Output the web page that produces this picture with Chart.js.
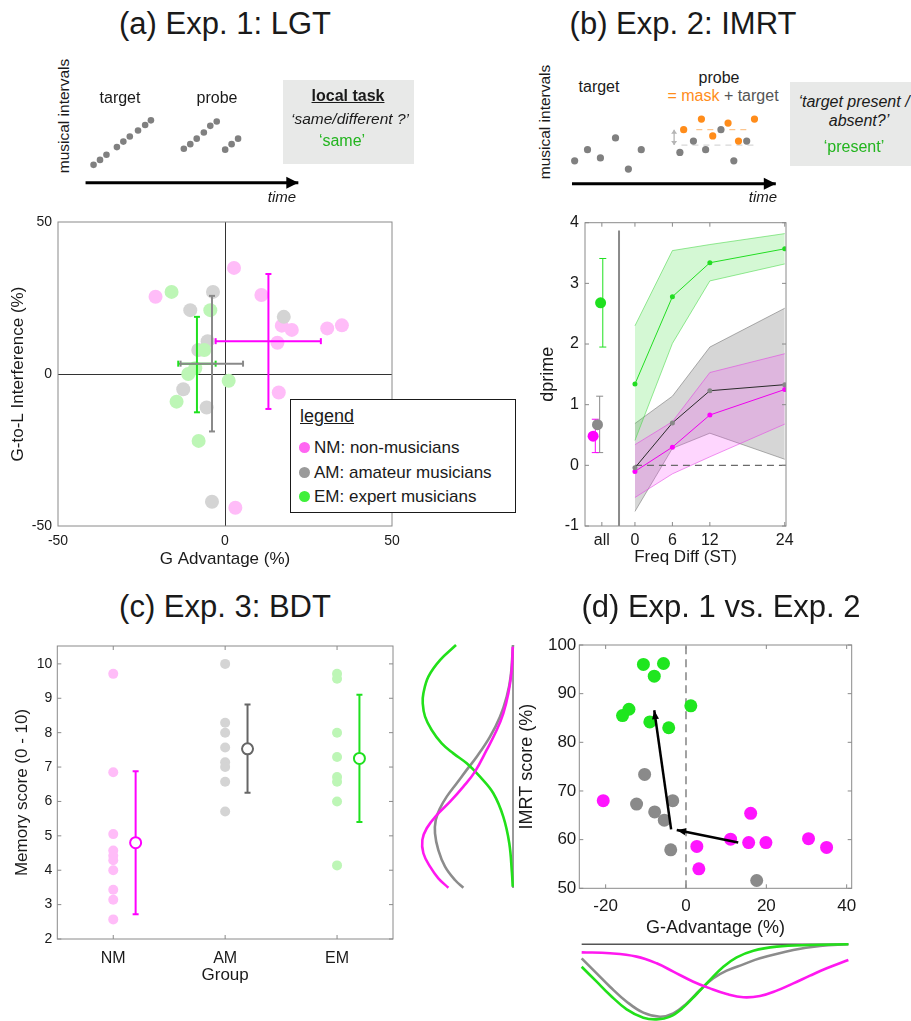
<!DOCTYPE html>
<html>
<head>
<meta charset="utf-8">
<title>Exp. 1-3 figure</title>
<script src="https://cdn.jsdelivr.net/npm/chart.js@4.4.1/dist/chart.umd.min.js"></script>
<style>
  html, body { margin:0; padding:0; background:#ffffff; }
  #page { position:relative; width:911px; height:1021px; overflow:hidden; background:#fff;
          font-family:'Liberation Sans', Arial, Helvetica, sans-serif; color:#1a1a1a; }
  #page canvas { position:absolute; }
  .t { position:absolute; white-space:nowrap; line-height:1; transform:translate(-50%,-50%); }
  .l { position:absolute; white-space:nowrap; line-height:1; transform:translate(0,-50%); }
  .r { transform:translate(-50%,-50%) rotate(-90deg); }
  .gbox { position:absolute; background:#e8e9e8; }
</style>
</head>
<body>
<div id="page"></div>
<script>
// ======================= DATA =======================
// ---- (a) Exp. 1: LGT schematic (time units, pitch units) ----
const lgtTargetTime  = [4.3, 7.2, 10.1, 14.8, 17.7, 20.6, 24.3, 27.5, 30.1];
const lgtTargetPitch = [12, 14.7, 17.5, 21.7, 24.7, 27.5, 30.8, 33.8, 36.3];
const lgtProbeTime   = [44.9, 47.8, 50.7, 53.9, 56.8, 59.7, 63.5, 66.4, 69.3];
const lgtProbePitch  = [20.8, 23.3, 26.3, 29.7, 33.3, 35.7, 20.3, 23.3, 26.3];
const lgtTimeAxis    = [0.7, 96.4];
const lgtTimeAxisPitch = 2.2;

// ---- (a) Exp. 1: LGT results ----
const lgtTicks   = [-50, 0, 50];
const lgtNM_gAdv = [2.7, -20.8, 10.9, 17.0, 20.0, 30.6, 35.0, 15.7, 16.1, 3.1];
const lgtNM_g2l  = [34.9, 25.4, 26.0, 15.9, 14.5, 15.0, 16.0, 10.3, -6.1, -44.0];
const lgtAM_gAdv = [-3.6, -10.4, 17.6, -5.2, -8.0, -12.5, -5.5, -3.9];
const lgtAM_g2l  = [27.0, 21.0, 18.8, 10.8, 7.9, -5.0, -11.0, -42.0];
const lgtEM_gAdv = [-16.0, -4.4, -6.2, -8.9, -11.0, 1.1, -14.5, -7.9];
const lgtEM_g2l  = [27.0, 21.0, 7.9, 1.9, 0.0, -2.2, -9.1, -22.0];
// group means and error limits, order NM, AM, EM
const lgtMeanGAdv = [13.0, -3.9, -8.4];
const lgtMeanG2L  = [10.8, 3.4, 3.4];
const lgtGAdvLo   = [-2.8, -13.3, -14.0];
const lgtGAdvHi   = [28.7, 5.4, -2.8];
const lgtG2LLo    = [-11.5, -18.9, -12.6];
const lgtG2LHi    = [32.9, 25.7, 18.8];

// ---- (b) Exp. 2: IMRT schematic ----
const imrtTargetTime  = [4.8, 10.6, 16.4, 23.2, 29.0, 34.8];
const imrtTargetPitch = [14.2, 20.3, 15.8, 26.7, 9.7, 20.3];
const imrtProbeTime   = [52.2, 58.3, 63.8, 70.7, 76.5, 82.3];
const imrtProbePitch  = [18.8, 25.0, 20.3, 31.2, 14.2, 25.0];
const imrtMaskTime    = [53.9, 61.9, 67.0, 73.9, 78.6, 85.8];
const imrtMaskPitch   = [31.2, 37.0, 27.8, 34.8, 25.0, 37.0];
const imrtShiftTime   = 49.6;
const imrtShiftPitch  = [22.8, 31.2];
const imrtMaskRefTime = [59.6, 83.5];
const imrtTargRefTime = [52.9, 86.2];
const imrtTimeAxis    = [3.6, 95.4];
const imrtTimeAxisPitch = 1.7;

// ---- (b) Exp. 2: IMRT results ----
const imrtFreqDiff   = [0, 6, 12, 24];
const imrtXTicks     = [-5.3, 0, 6, 12, 24];
const imrtXLabels    = ['all', '0', '6', '12', '24'];
const imrtYTicks     = [-1, 0, 1, 2, 3, 4];
const imrtEM    = [1.34, 2.78, 3.34, 3.57];
const imrtEM_hi = [2.30, 3.54, 3.64, 3.82];
const imrtEM_lo = [0.41, 2.01, 3.04, 3.32];
const imrtAM    = [-0.04, 0.70, 1.23, 1.33];
const imrtAM_hi = [0.69, 1.14, 1.95, 2.59];
const imrtAM_lo = [-0.76, 0.28, 0.53, 0.10];
const imrtNM    = [-0.10, 0.30, 0.83, 1.25];
const imrtNM_hi = [0.34, 0.72, 1.53, 1.84];
const imrtNM_lo = [-0.53, -0.14, 0.14, 0.68];
// "all" summary, order NM, AM, EM
const imrtAllPos  = [-6.7, -6.0, -5.5];
const imrtAllMean = [0.48, 0.67, 2.68];
const imrtAllLo   = [0.21, 0.21, 1.95];
const imrtAllHi   = [0.76, 1.14, 3.41];
const imrtDivider = -2.55;
const imrtDividerY = [-1, 3.87];

// ---- (c) Exp. 3: BDT ----
const bdtGroups   = ['NM', 'AM', 'EM'];
const bdtGroupPos = [1, 2, 3];
const bdtYTicks   = [2, 3, 4, 5, 6, 7, 8, 9, 10];
const bdtNM = [9.71, 6.85, 5.05, 4.57, 4.42, 4.29, 4.0, 3.43, 3.14, 2.57];
const bdtAM = [10.0, 8.29, 8.0, 7.57, 7.14, 7.0, 6.57, 5.71];
const bdtEM = [9.71, 9.57, 8.0, 7.29, 6.71, 6.57, 6.0, 4.14];
const bdtMean = [4.80, 7.53, 7.25];
const bdtLo   = [2.72, 6.25, 5.40];
const bdtHi   = [6.88, 8.82, 9.10];
const bdtMeanShift = 0.2;
// density profiles beside (c): position along score axis, density
const bdtDensEM_pos = [10.0, 9.38, 8.70, 8.01, 7.60, 7.05, 6.50, 5.95, 5.54, 5.13, 4.58, 3.90, 2.93, 1.84, 0.60, 0.05];
const bdtDensEM     = [0.613, 0.785, 0.91, 0.964, 0.971, 0.946, 0.875, 0.767, 0.642, 0.498, 0.355, 0.212, 0.104, 0.040, 0.011, 0.003];
const bdtDensNM_pos = [9.93, 8.97, 8.01, 7.19, 6.50, 5.68, 4.79, 4.17, 3.55, 3.00, 2.46, 1.98, 1.43, 0.88, 0.40, 0.01];
const bdtDensNM     = [0.003, 0.014, 0.05, 0.104, 0.175, 0.283, 0.409, 0.534, 0.677, 0.82, 0.928, 0.975, 0.964, 0.892, 0.803, 0.695];
const bdtDensAM_pos = [10.0, 8.70, 7.87, 7.05, 6.23, 5.40, 4.86, 4.31, 3.76, 3.28, 2.80, 2.25, 1.56, 0.88, 0.33, 0.01];
const bdtDensAM     = [0.0, 0.025, 0.068, 0.14, 0.247, 0.39, 0.498, 0.605, 0.713, 0.785, 0.831, 0.839, 0.803, 0.731, 0.624, 0.534];
const bdtDensBase   = [0, 10];

// ---- (d) Exp. 1 vs. Exp. 2 ----
const cmpXTicks = [-20, 0, 20, 40];
const cmpYTicks = [50, 60, 70, 80, 90, 100];
const cmpEM_gAdv = [-10.6, -5.6, -7.9, 1.2, -14.2, -15.8, -9.0, -4.3];
const cmpEM_imrt = [96.0, 96.2, 93.6, 87.5, 86.8, 85.5, 84.2, 83.0];
const cmpAM_gAdv = [-10.3, -12.3, -7.8, -5.4, -3.3, -3.8, 17.6];
const cmpAM_imrt = [73.4, 67.3, 65.7, 64.0, 68.0, 57.9, 51.6];
const cmpNM_gAdv = [-20.6, 2.7, 3.2, 11.1, 15.6, 16.1, 19.9, 30.5, 35.0];
const cmpNM_imrt = [68.0, 58.6, 54.0, 60.1, 59.4, 65.4, 59.4, 60.2, 58.4];
const cmpArrow1_gAdv = [13.0, -2.3];
const cmpArrow1_imrt = [59.4, 62.0];
const cmpArrow2_gAdv = [-3.7, -7.9];
const cmpArrow2_imrt = [62.1, 86.6];
// density profiles below (d) over G-Advantage
const cmpDensNM_x = [-25.97, -18.92, -12.28, -7.30, -3.15, 1.83, 5.98, 10.13, 14.28, 18.42, 22.58, 26.72, 30.87, 35.03, 40.42];
const cmpDensNM   = [0.106, 0.119, 0.163, 0.251, 0.361, 0.494, 0.582, 0.656, 0.700, 0.683, 0.612, 0.516, 0.414, 0.317, 0.207];
const cmpDensAM_x = [-25.97, -22.24, -18.92, -14.77, -10.62, -6.47, -3.15, 0.17, 3.49, 6.81, 10.13, 14.28, 18.42, 26.72, 33.36, 40.42];
const cmpDensAM   = [0.185, 0.383, 0.560, 0.758, 0.903, 0.956, 0.912, 0.780, 0.604, 0.449, 0.348, 0.265, 0.185, 0.075, 0.023, 0.0];
const cmpDensEM_x = [-25.97, -22.24, -18.92, -14.77, -10.62, -7.30, -3.98, -0.66, 2.66, 5.98, 9.30, 12.62, 16.77, 22.58, 30.87, 40.42];
const cmpDensEM   = [0.296, 0.494, 0.670, 0.859, 0.969, 0.991, 0.956, 0.833, 0.656, 0.471, 0.296, 0.172, 0.084, 0.031, 0.009, 0.0];
const cmpDensBase = [-25.97, 40.42];

// ======================= SETUP =======================
const FONT = "'Liberation Sans', Arial, Helvetica, sans-serif";
Chart.defaults.font.family = FONT;
Chart.defaults.color = '#1a1a1a';
Chart.defaults.animation = false;
Chart.defaults.responsive = false;
Chart.defaults.events = [];
Chart.defaults.plugins.legend.display = false;
Chart.defaults.plugins.tooltip.enabled = false;

const page = document.getElementById('page');
function mk(left, top, w, h) {
  const c = document.createElement('canvas');
  c.width = w; c.height = h;
  c.style.left = left + 'px'; c.style.top = top + 'px';
  c.style.width = w + 'px'; c.style.height = h + 'px';
  page.appendChild(c);
  return c;
}
function txt(html, x, y, css, cls) {
  const d = document.createElement('div');
  d.className = cls || 't';
  d.innerHTML = html;
  d.style.left = x + 'px'; d.style.top = y + 'px';
  Object.assign(d.style, css || {});
  page.appendChild(d);
  return d;
}
function gbox(l, t, w, h) {
  const d = document.createElement('div');
  d.className = 'gbox';
  Object.assign(d.style, {left: l + 'px', top: t + 'px', width: w + 'px', height: h + 'px'});
  page.appendChild(d);
}
const pts = (xs, ys) => xs.map((x, i) => ({x, y: ys[i]}));
const atX = (x, ys) => ys.map(y => ({x, y}));
const atY = (xs, y) => xs.map(x => ({x, y}));

function dots(data, color, r, order, extra) {
  return Object.assign({data, showLine: false, pointRadius: r, pointBackgroundColor: color,
    pointBorderColor: color, pointBorderWidth: 0, borderColor: color, order}, extra || {});
}
function line(data, color, w, order, extra) {
  return Object.assign({data, borderColor: color, borderWidth: w, pointRadius: 0, tension: 0,
    fill: false, order}, extra || {});
}
function errBar(data, color, w, cap, rot, order) {
  return {data, borderColor: color, borderWidth: w, pointStyle: 'line', pointRadius: cap,
    pointBorderColor: color, pointBackgroundColor: color, pointBorderWidth: w, pointRotation: rot,
    tension: 0, fill: false, order};
}
const fixTicks = arr => s => { s.ticks = arr.map(v => ({value: v})); };

// frame (box) + inward tick marks, drawn from the chart's own scales
const framePlugin = {
  id: 'frame',
  afterDraw(chart, args, o) {
    if (!o || !o.color) return;
    const {ctx, chartArea: a} = chart;
    ctx.save();
    ctx.strokeStyle = o.color; ctx.lineWidth = o.width || 1;
    ctx.strokeRect(a.left, a.top, a.right - a.left, a.bottom - a.top);
    const L = o.tick || 0;
    if (L) {
      ctx.beginPath();
      chart.scales.x.ticks.forEach(t => {
        const p = chart.scales.x.getPixelForValue(t.value);
        ctx.moveTo(p, a.bottom); ctx.lineTo(p, a.bottom - L);
        ctx.moveTo(p, a.top); ctx.lineTo(p, a.top + L);
      });
      chart.scales.y.ticks.forEach(t => {
        const p = chart.scales.y.getPixelForValue(t.value);
        ctx.moveTo(a.left, p); ctx.lineTo(a.left + L, p);
        ctx.moveTo(a.right, p); ctx.lineTo(a.right - L, p);
      });
      ctx.stroke();
    }
    ctx.restore();
  }
};
// arrow heads at the end of datasets flagged with arrowHead
const arrowPlugin = {
  id: 'arrowHeads',
  afterDatasetsDraw(chart) {
    const ctx = chart.ctx;
    chart.data.datasets.forEach((ds, i) => {
      if (!ds.arrowHead) return;
      const el = chart.getDatasetMeta(i).data;
      const n = el.length;
      const head = (tip, from) => {
        const ang = Math.atan2(tip.y - from.y, tip.x - from.x);
        const {len, half} = ds.arrowHead;
        const bx = tip.x - len * Math.cos(ang), by = tip.y - len * Math.sin(ang);
        ctx.save();
        ctx.fillStyle = ds.arrowHead.color || ds.borderColor;
        ctx.beginPath();
        ctx.moveTo(tip.x, tip.y);
        ctx.lineTo(bx + half * Math.sin(ang), by - half * Math.cos(ang));
        ctx.lineTo(bx - half * Math.sin(ang), by + half * Math.cos(ang));
        ctx.closePath(); ctx.fill(); ctx.restore();
      };
      head(el[n - 1], el[n - 2]);
      if (ds.arrowHead.both) head(el[0], el[1]);
    });
  }
};
Chart.register(framePlugin, arrowPlugin);

const hidden = (min, max, reverse) => ({type: 'linear', min, max, reverse: !!reverse, display: false});
const NOGRID = {display: false, drawTicks: false};

// colours
const C = {
  nmLight: '#ffbcf8', amLight: '#d4d4d4', emLight: '#bdf6b6',
  nm: '#ff00ff', am: '#8a8a8a', em: '#1fe01f', amDark: '#666666',
  orange: '#ff8c1a', noteGray: '#808080', frame: '#8a8a8a'
};

// ======================= GRAY TASK BOXES =======================
gbox(283, 80, 131, 84);
gbox(790, 82, 130, 84);

// ======================= (a) SCHEMATIC =======================
new Chart(mk(80, 105, 240, 95), {
  type: 'line',
  data: { datasets: [
    dots(pts(lgtTargetTime, lgtTargetPitch), C.noteGray, 3.3, 0),
    dots(pts(lgtProbeTime, lgtProbePitch), C.noteGray, 3.3, 0),
    line(atY(lgtTimeAxis, lgtTimeAxisPitch), '#000', 3, 1, {arrowHead: {len: 12, half: 6}, clip: false})
  ]},
  options: { layout: {padding: 0}, scales: { x: hidden(0, 104.35), y: hidden(-5, 42.5) } }
});

// ======================= (b) SCHEMATIC =======================
new Chart(mk(560, 105, 230, 95), {
  type: 'line',
  data: { datasets: [
    dots(pts(imrtTargetTime, imrtTargetPitch), C.noteGray, 3.6, 0),
    dots(pts(imrtProbeTime, imrtProbePitch), C.noteGray, 3.6, 0),
    dots(pts(imrtMaskTime, imrtMaskPitch), C.orange, 3.6, 0),
    line(atY(imrtMaskRefTime, imrtMaskPitch[0]), '#fcc58e', 1.2, 2, {borderDash: [6, 5]}),
    line(atY(imrtTargRefTime, imrtProbePitch[1] - 2.2), '#d8d8d8', 1.2, 2, {borderDash: [6, 5]}),
    line(atX(imrtShiftTime, imrtShiftPitch), '#b5b5b5', 1.3, 2, {arrowHead: {len: 4, half: 3, both: true}}),
    line(atY(imrtTimeAxis, imrtTimeAxisPitch), '#000', 3, 1, {arrowHead: {len: 12, half: 6}, clip: false})
  ]},
  options: { layout: {padding: 0}, scales: { x: hidden(0, 100), y: hidden(-5, 42.5) } }
});

// ======================= (a) RESULTS =======================
const errA = [];
[C.nm, C.am, C.em].forEach((col, g) => {
  errA.push(errBar(atX(lgtMeanGAdv[g], [lgtG2LLo[g], lgtG2LHi[g]]), col, 2, 3, 0, 0));
  errA.push(errBar(atY([lgtGAdvLo[g], lgtGAdvHi[g]], lgtMeanG2L[g]), col, 2, 3, 90, 0));
});
new Chart(mk(0, 200, 420, 380), {
  type: 'line',
  data: { datasets: [
    ...errA,
    dots(pts(lgtEM_gAdv, lgtEM_g2l), C.emLight, 7, 1),
    dots(pts(lgtAM_gAdv, lgtAM_g2l), C.amLight, 7, 2),
    dots(pts(lgtNM_gAdv, lgtNM_g2l), C.nmLight, 7, 3)
  ]},
  options: {
    layout: {padding: {left: 0, right: 28, top: 22, bottom: 0}},
    plugins: {frame: {color: C.frame, width: 1}},
    scales: {
      x: { type: 'linear', min: -50, max: 50, afterBuildTicks: fixTicks(lgtTicks),
           afterFit: s => { s.height = 54; },
           grid: {drawTicks: false, color: c => (c.tick && c.tick.value === 0) ? '#333' : 'rgba(0,0,0,0)'},
           border: {display: false},
           ticks: {padding: 7, font: {size: 14}, maxRotation: 0, autoSkip: false},
           title: {display: true, text: 'G Advantage (%)', font: {size: 17}, padding: {top: 0, bottom: 10}} },
      y: { type: 'linear', min: -50, max: 50, afterBuildTicks: fixTicks(lgtTicks),
           afterFit: s => { s.width = 58; },
           grid: {drawTicks: false, color: c => (c.tick && c.tick.value === 0) ? '#333' : 'rgba(0,0,0,0)'},
           border: {display: false},
           ticks: {padding: 6, font: {size: 14}, autoSkip: false},
           title: {display: true, text: 'G-to-L Interference (%)', font: {size: 17}, padding: {top: 8, bottom: 0}} }
    }
  }
});

// ======================= (b) RESULTS =======================
const bandDs = (hi, lo, fillCol, edgeCol, order) => [
  line(pts(imrtFreqDiff, hi), edgeCol, 1, order, {fill: '+1', backgroundColor: fillCol}),
  line(pts(imrtFreqDiff, lo), edgeCol, 1, order)
];
const allDs = [];
[C.nm, C.am, C.em].forEach((col, g) => {
  allDs.push(errBar(atX(imrtAllPos[g] + 0.35, [imrtAllLo[g], imrtAllHi[g]]), col, 1, 3.5, 0, 1));
  allDs.push(dots([{x: imrtAllPos[g], y: imrtAllMean[g]}], col, 5.5, 0));
});
new Chart(mk(530, 200, 280, 370), {
  type: 'line',
  data: { datasets: [
    ...allDs,
    line(pts(imrtFreqDiff, imrtEM), '#22dd22', 1, 2, {pointRadius: 2.5, pointBackgroundColor: '#22dd22', pointBorderWidth: 0}),
    line(pts(imrtFreqDiff, imrtAM), '#2a2a2a', 1, 2, {pointRadius: 2.5, pointBackgroundColor: '#888', pointBorderWidth: 0}),
    line(pts(imrtFreqDiff, imrtNM), '#ee00ee', 1, 2, {pointRadius: 2.5, pointBackgroundColor: '#ff00ff', pointBorderWidth: 0}),
    line(atY([0, 24.2], 0), '#6a6a6a', 1.4, 3, {borderDash: [7, 5]}),
    line(atX(imrtDivider, imrtDividerY), '#8a8a8a', 2, 3),
    ...bandDs(imrtNM_hi, imrtNM_lo, 'rgba(250,70,250,0.22)', 'rgba(225,60,225,0.55)', 5),
    ...bandDs(imrtEM_hi, imrtEM_lo, 'rgba(60,225,60,0.22)', 'rgba(70,215,70,0.55)', 6),
    ...bandDs(imrtAM_hi, imrtAM_lo, 'rgba(120,120,120,0.30)', 'rgba(100,100,100,0.5)', 7)
  ]},
  options: {
    layout: {padding: {left: 0, right: 24, top: 22.7, bottom: 0}},
    plugins: {frame: {color: C.frame, width: 1, tick: 4}},
    scales: {
      x: { type: 'linear', min: -8, max: 24.2, afterBuildTicks: fixTicks(imrtXTicks),
           afterFit: s => { s.height = 44; },
           grid: NOGRID, border: {display: false},
           ticks: {padding: 4.5, font: {size: 16}, maxRotation: 0, autoSkip: false,
                   callback: (v, i) => imrtXLabels[i]},
           title: {display: true, text: 'Freq Diff (ST)', font: {size: 17}, padding: {top: 0, bottom: 2}} },
      y: { type: 'linear', min: -1, max: 4, afterBuildTicks: fixTicks(imrtYTicks),
           afterFit: s => { s.width = 55; },
           grid: NOGRID, border: {display: false},
           ticks: {padding: 6, font: {size: 16}, autoSkip: false},
           title: {display: true, text: 'dprime', font: {size: 18}, padding: {top: 7.5, bottom: 0}} }
    }
  }
});

// ======================= (c) RESULTS =======================
const bdtLight = [C.nmLight, C.amLight, C.emLight];
const bdtDark = [C.nm, C.amDark, C.em];
const bdtRaw = [bdtNM, bdtAM, bdtEM];
const cDs = [];
bdtGroups.forEach((g, i) => {
  cDs.push(dots(atX(bdtGroupPos[i], bdtRaw[i]), bdtLight[i], 5, 3));
  cDs.push(errBar(atX(bdtGroupPos[i] + bdtMeanShift, [bdtLo[i], bdtHi[i]]), bdtDark[i], 2, 3, 0, 1));
  cDs.push(dots([{x: bdtGroupPos[i] + bdtMeanShift, y: bdtMean[i]}], '#ffffff', 5.5, 0,
    {pointBorderColor: bdtDark[i], pointBorderWidth: 2}));
});
new Chart(mk(0, 630, 420, 391), {
  type: 'line',
  data: { datasets: cDs },
  options: {
    layout: {padding: {left: 0, right: 27, top: 16, bottom: 0}},
    plugins: {frame: {color: C.frame, width: 1, tick: 4}},
    scales: {
      x: { type: 'linear', min: 0.5, max: 3.5, afterBuildTicks: fixTicks(bdtGroupPos),
           afterFit: s => { s.height = 82; },
           grid: NOGRID, border: {display: false},
           ticks: {padding: 9.5, font: {size: 16}, maxRotation: 0, autoSkip: false,
                   callback: (v, i) => bdtGroups[i]},
           title: {display: true, text: 'Group', font: {size: 17}, padding: {top: 0, bottom: 35}} },
      y: { type: 'linear', min: 2, max: 10.52, afterBuildTicks: fixTicks(bdtYTicks),
           afterFit: s => { s.width = 57.3; },
           grid: NOGRID, border: {display: false},
           ticks: {padding: 5, font: {size: 14}, autoSkip: false},
           title: {display: true, text: 'Memory score (0 - 10)', font: {size: 17}, padding: {top: 12.5, bottom: 0}} }
    }
  }
});

// density profiles beside (c)
new Chart(mk(406, 641, 112, 251), {
  type: 'line',
  data: { datasets: [
    line(pts(bdtDensEM, bdtDensEM_pos), '#22e01a', 2.6, 1, {tension: 0.4, clip: 6}),
    line(pts(bdtDensAM, bdtDensAM_pos), '#8c8c8c', 2.6, 2, {tension: 0.4, clip: 6}),
    line(pts(bdtDensNM, bdtDensNM_pos), '#ff18f0', 2.6, 0, {tension: 0.4, clip: 6}),
    line(atX(0, bdtDensBase), '#777', 1.5, 3, {clip: 6})
  ]},
  options: { layout: {padding: {left: 4, right: 5, top: 4, bottom: 4}},
             scales: { x: hidden(0, 1.108, true), y: hidden(0, 10) } }
});

// ======================= (d) RESULTS =======================
new Chart(mk(500, 630, 380, 315), {
  type: 'line',
  data: { datasets: [
    line(pts(cmpArrow1_gAdv, cmpArrow1_imrt), '#000', 2.5, 0, {arrowHead: {len: 9, half: 3.5}}),
    line(pts(cmpArrow2_gAdv, cmpArrow2_imrt), '#000', 2.5, 0, {arrowHead: {len: 9, half: 3.5}}),
    dots(pts(cmpEM_gAdv, cmpEM_imrt), '#1fe61f', 6.5, 2),
    dots(pts(cmpAM_gAdv, cmpAM_imrt), '#8a8a8a', 6.5, 2),
    dots(pts(cmpNM_gAdv, cmpNM_imrt), '#ff14ff', 6.5, 2),
    line(atX(0, [50, 100]), '#7a7a7a', 1.4, 3, {borderDash: [8, 5]})
  ]},
  options: {
    layout: {padding: {left: 0, right: 28.3, top: 15, bottom: 0}},
    plugins: {frame: {color: C.frame, width: 1, tick: 4}},
    scales: {
      x: { type: 'linear', min: -26.56, max: 41.25, afterBuildTicks: fixTicks(cmpXTicks),
           afterFit: s => { s.height = 56.7; },
           grid: NOGRID, border: {display: false},
           ticks: {padding: 8, font: {size: 17}, maxRotation: 0, autoSkip: false},
           title: {display: true, text: 'G-Advantage (%)', font: {size: 18}, padding: {top: 0, bottom: 6}} },
      y: { type: 'linear', min: 50, max: 100, afterBuildTicks: fixTicks(cmpYTicks),
           afterFit: s => { s.width = 79.3; },
           grid: NOGRID, border: {display: false},
           ticks: {padding: 3, font: {size: 17}, autoSkip: false},
           title: {display: true, text: 'IMRT score (%)', font: {size: 18}, padding: {top: 16, bottom: 0}} }
    }
  }
});

// density profiles below (d)
new Chart(mk(570, 936, 290, 85), {
  type: 'line',
  data: { datasets: [
    line(pts(cmpDensNM_x, cmpDensNM), '#ff18f0', 2.6, 0, {tension: 0.4, clip: 6}),
    line(pts(cmpDensAM_x, cmpDensAM), '#8c8c8c', 2.6, 2, {tension: 0.4, clip: 6}),
    line(pts(cmpDensEM_x, cmpDensEM), '#22e01a', 2.6, 1, {tension: 0.4, clip: 6}),
    line(atY(cmpDensBase, 0), '#555', 1.5, 3, {clip: 6})
  ]},
  options: { layout: {padding: {left: 9.3, right: 8.3, top: 8.3, bottom: 0}},
             scales: { x: hidden(-26.56, 41.25), y: hidden(0, 1.013, true) } }
});

// ======================= TEXT =======================
const TF = {fontSize: '31px'};
txt('(a) Exp. 1: LGT', 225, 23, TF);
txt('(b) Exp. 2: IMRT', 683, 23, TF);
txt('(c) Exp. 3: BDT', 225, 606, TF);
txt('(d) Exp. 1 vs. Exp. 2', 721, 606, TF);

// schematic (a)
txt('musical intervals', 64, 116, {fontSize: '15.5px'}, 't r');
txt('target', 120, 98, {fontSize: '16px'});
txt('probe', 217, 98, {fontSize: '16px'});
txt('time', 282, 196, {fontSize: '15px', fontStyle: 'italic'});
txt('local task', 348, 96, {fontSize: '16px', fontWeight: 'bold', textDecoration: 'underline'});
txt('\u2018same/different ?\u2019', 350, 119, {fontSize: '15.5px', fontStyle: 'italic'});
txt('\u2018same\u2019', 342, 141, {fontSize: '16px', color: '#22b41e'});

// schematic (b)
txt('musical intervals', 545, 122, {fontSize: '15.5px'}, 't r');
txt('target', 599, 87, {fontSize: '16px'});
txt('probe', 719, 78, {fontSize: '16px'});
txt('<span style="color:#ff8c1a">= mask</span> <span style="color:#555">+ target</span>', 723, 96, {fontSize: '16px'});
txt('time', 763, 196, {fontSize: '15px', fontStyle: 'italic'});
txt('\u2018target present /', 854, 102, {fontSize: '16px', fontStyle: 'italic'});
txt('absent?\u2019', 859, 121, {fontSize: '16px', fontStyle: 'italic'});
txt('\u2018present\u2019', 854, 147, {fontSize: '16px', color: '#22b41e'});

// legend (a)
const lg = document.createElement('div');
Object.assign(lg.style, {position: 'absolute', left: '290px', top: '399px', width: '226px', height: '114px',
  border: '1.5px solid #1a1a1a', background: '#fff', boxSizing: 'border-box'});
page.appendChild(lg);
txt('legend', 300, 416, {fontSize: '18px', textDecoration: 'underline'}, 'l');
const legendItems = [['NM: non-musicians', '#ff66f2', 447], ['AM: amateur musicians', '#9a9a9a', 472], ['EM: expert musicians', '#3ff03a', 496]];
legendItems.forEach(([s, col, y]) => {
  const dot = document.createElement('div');
  Object.assign(dot.style, {position: 'absolute', left: '299px', top: (y - 5.5) + 'px', width: '11px', height: '11px',
    borderRadius: '50%', background: col});
  page.appendChild(dot);
  txt(s, 314, y, {fontSize: '17px'}, 'l');
});
</script>
</body>
</html>
